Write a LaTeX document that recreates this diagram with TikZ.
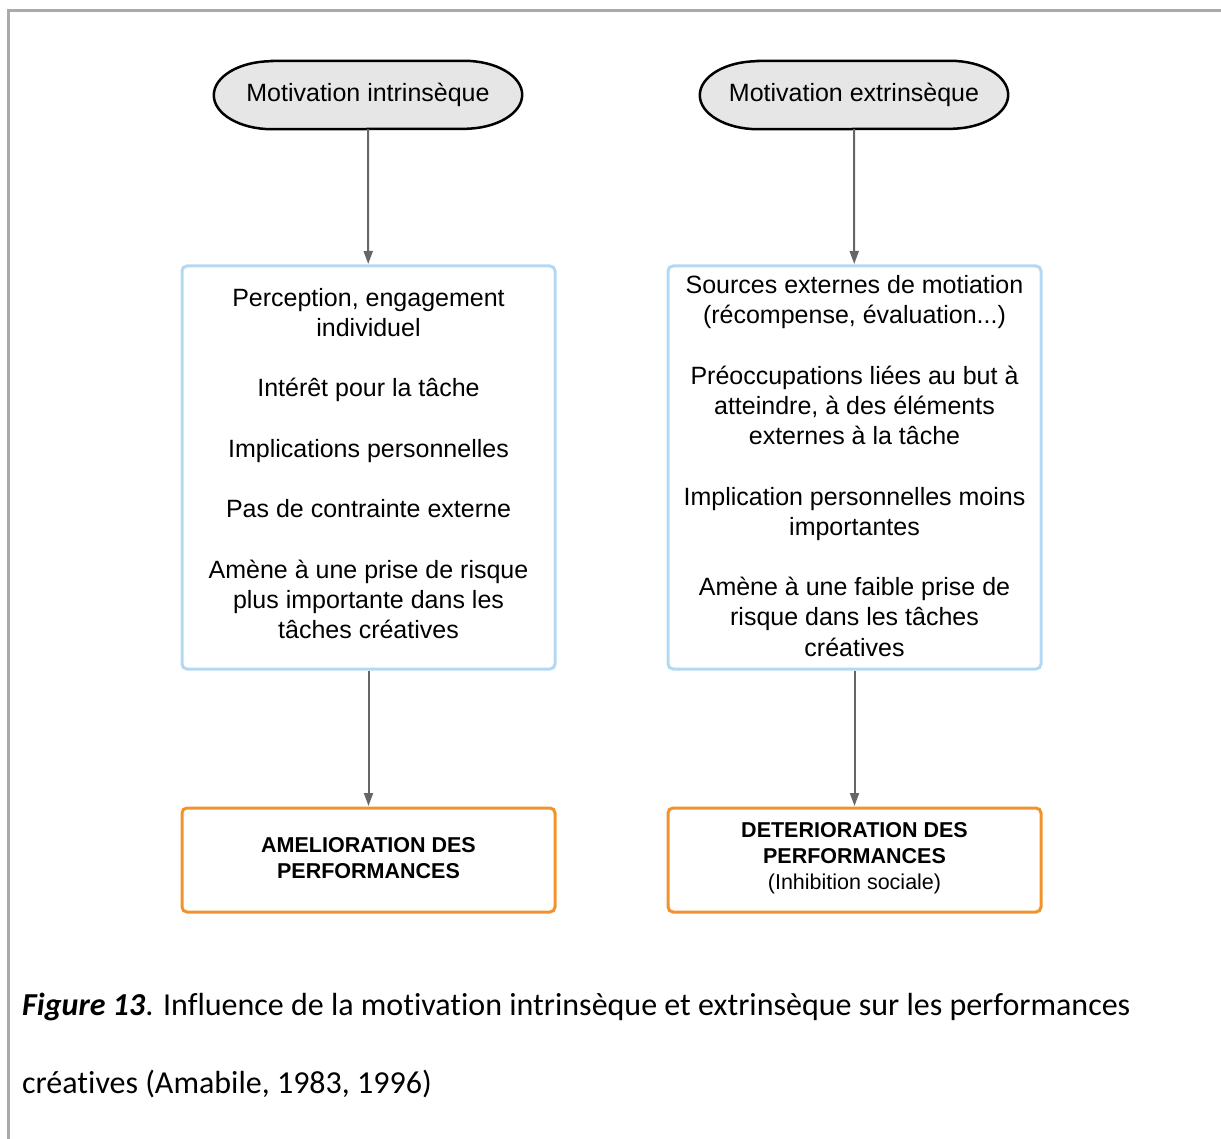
\documentclass[tikz,border=0pt]{standalone}
\usepackage{fontspec}
\setmainfont{Liberation Sans}
\newfontfamily\capfont[Ligatures=NoCommon]{Carlito}
\usetikzlibrary{arrows.meta}
\definecolor{frame}{HTML}{AAAAAA}
\definecolor{stadfill}{HTML}{E6E6E6}
\definecolor{bluebd}{HTML}{B3D9F2}
\definecolor{orangebd}{HTML}{F2922C}
\definecolor{arrgray}{HTML}{666666}
\tikzset{
  stad/.style={rectangle, minimum width=308pt, minimum height=68pt, inner sep=0pt,
    font=\fontsize{25}{30}\selectfont},
  stadline/.style={draw=black, line width=2.5pt, fill=stadfill},
  bluebox/.style={rectangle, rounded corners=5pt, draw=bluebd, line width=3pt,
    minimum width=373pt, minimum height=403pt},
  boxtext/.style={align=center, inner sep=0pt, font=\fontsize{25}{30.2}\selectfont},
  orbox/.style={rectangle, rounded corners=5pt, draw=orangebd, line width=3pt,
    minimum width=373pt, minimum height=104pt},
  ortext/.style={align=center, inner sep=0pt, font=\fontsize{21.5}{26}\selectfont},
  arr/.style={draw=arrgray, line width=2pt, -{Triangle[length=13pt,width=9pt]}, shorten >=0.5pt},
  captxt/.style={font=\capfont\fontsize{32}{36}\selectfont, anchor=base west, inner sep=0pt}
}
\newcommand\stadpath[1]{%
  \path[stadline] ([xshift=58pt]#1.north west) -- ([xshift=-58pt]#1.north east)
    arc[start angle=90, end angle=-90, x radius=58pt, y radius=34pt]
    -- ([xshift=58pt]#1.south west)
    arc[start angle=270, end angle=90, x radius=58pt, y radius=34pt] -- cycle;}
\begin{document}
\begin{tikzpicture}[x=1pt,y=-1pt]
\useasboundingbox (0,0) rectangle (1221,1139);
\draw[frame, line width=3pt] (8,1139) -- (8,11) -- (1221,11);

\node[stad] (s1) at (368,95) {};
\node[stad] (s2) at (854,95) {};
\stadpath{s1}
\stadpath{s2}
\node[stad] (l1) at (368,95) {Motivation intrinsèque};
\node[stad] (l2) at (854,95) {Motivation extrinsèque};

\node[bluebox] (b1) at (368.5,467.5) {};
\node[bluebox] (b2) at (854.5,467.5) {};
\node[boxtext] (t1) at (368.5,463.5) {Perception, engagement\\individuel\\[30.2pt]Intérêt pour la tâche\\[30.2pt]Implications personnelles\\[30.2pt]Pas de contrainte externe\\[30.2pt]Amène à une prise de risque\\plus importante dans les\\tâches créatives};
\node[boxtext] (t2) at (854.5,466) {Sources externes de motiation\\(récompense, évaluation...)\\[30.2pt]Préoccupations liées au but à\\atteindre, à des éléments\\externes à la tâche\\[30.2pt]Implication personnelles moins\\importantes\\[30.2pt]Amène à une faible prise de\\risque dans les tâches\\créatives};

\node[orbox] (o1) at (368.5,860) {};
\node[orbox] (o2) at (854.5,860) {};
\node[ortext] (p1) at (368.5,858) {\textbf{AMELIORATION DES}\\\textbf{PERFORMANCES}};
\node[ortext] (p2) at (854.5,858) {\textbf{DETERIORATION DES}\\\textbf{PERFORMANCES}\\(Inhibition sociale)};

\draw[arr] (s1) -- (b1);
\draw[arr] (s2) -- (b2);
\draw[arr] (b1) -- (o1);
\draw[arr] (b2) -- (o2);

\node[captxt] (c1) at (22,1015) {\textbf{\textit{Figure 13}}. Influence de la motivation intrinsèque et extrinsèque sur les performances};
\node[captxt] (c2) at (22,1093) {créatives (Amabile, 1983, 1996)};
\end{tikzpicture}
\end{document}
